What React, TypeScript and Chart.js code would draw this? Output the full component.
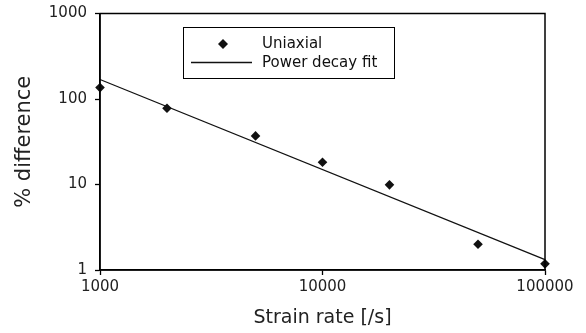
import React, { useEffect, useRef } from "react";
import { Chart, registerables } from "chart.js";

Chart.register(...registerables);

// Measured strain rates [/s] and percentage differences
const strainRates = [1000, 2000, 5000, 10000, 20000, 50000, 100000];
const uniaxialDiff = [136, 78, 37, 18.2, 9.9, 2.0, 1.18];

// Power decay fit evaluated at the ends of the range
const fitRates = [1000, 100000];
const fitDiff = [169, 1.32];

const xTickValues = [1000, 10000, 100000];
const yTickValues = [1, 10, 100, 1000];

const legendLabels = ["Uniaxial", "Power decay fit"];

const FONT = "'DejaVu Sans', sans-serif";

const framePlugin = {
  id: "frameAndLegend",
  afterDraw(chart: any) {
    const { ctx, chartArea } = chart;
    ctx.save();
    // box around the plot area
    ctx.strokeStyle = "#000";
    ctx.lineWidth = 1.5;
    ctx.strokeRect(chartArea.left, chartArea.top, chartArea.right - chartArea.left, chartArea.bottom - chartArea.top);

    // legend panel
    const bx = 183.5, by = 27.5, bw = 211, bh = 51;
    ctx.fillStyle = "#fff";
    ctx.fillRect(bx, by, bw, bh);
    ctx.lineWidth = 1;
    ctx.strokeRect(bx, by, bw, bh);

    // diamond marker
    const dx = 223, dy = 44, r = 5;
    ctx.fillStyle = "#111";
    ctx.beginPath();
    ctx.moveTo(dx, dy - r);
    ctx.lineTo(dx + r, dy);
    ctx.lineTo(dx, dy + r);
    ctx.lineTo(dx - r, dy);
    ctx.closePath();
    ctx.fill();

    // fit line sample
    ctx.strokeStyle = "#111";
    ctx.lineWidth = 1.3;
    ctx.beginPath();
    ctx.moveTo(191, 62.5);
    ctx.lineTo(252, 62.5);
    ctx.stroke();

    ctx.fillStyle = "#111";
    ctx.font = `15px ${FONT}`;
    ctx.textAlign = "left";
    ctx.textBaseline = "middle";
    ctx.fillText(legendLabels[0], 262, 44);
    ctx.fillText(legendLabels[1], 262, 63);
    ctx.restore();
  },
};

export default function App() {
  const canvasRef = useRef<HTMLCanvasElement | null>(null);

  useEffect(() => {
    document.body.style.margin = "0";
    const canvas = canvasRef.current;
    if (!canvas) return;
    const chart = new Chart(canvas, {
      type: "scatter",
      data: {
        datasets: [
          {
            label: legendLabels[1],
            type: "line",
            data: fitRates.map((x, i) => ({ x, y: fitDiff[i] })),
            borderColor: "#111",
            borderWidth: 1.3,
            pointRadius: 0,
            fill: false,
            tension: 0,
            clip: false,
          },
          {
            label: legendLabels[0],
            data: strainRates.map((x, i) => ({ x, y: uniaxialDiff[i] })),
            pointStyle: "rectRot",
            pointRadius: 4.8,
            backgroundColor: "#111",
            borderColor: "#111",
            borderWidth: 0,
            clip: false,
          },
        ],
      },
      options: {
        animation: false,
        responsive: false,
        devicePixelRatio: 1,
        layout: { padding: { top: 13.5, right: 41, left: 0, bottom: 0 } },
        plugins: { legend: { display: false }, tooltip: { enabled: false } },
        scales: {
          x: {
            type: "logarithmic",
            min: 1000,
            max: 100000,
            afterBuildTicks: (s: any) => {
              s.ticks = xTickValues.map((v) => ({ value: v }));
            },
            afterFit: (s: any) => {
              s.height = 63;
            },
            ticks: {
              color: "#222",
              font: { family: FONT, size: 15 },
              padding: 3,
              maxRotation: 0,
              callback: (v: any) => String(v),
            },
            grid: { drawOnChartArea: false, drawTicks: true, tickLength: 5, color: "#000", tickWidth: 1.3 },
            border: { color: "#000", width: 1.5 },
            title: {
              display: true,
              text: "Strain rate [/s]",
              color: "#222",
              font: { family: FONT, size: 19 },
              padding: { top: 0, bottom: 4 },
            },
          },
          y: {
            type: "logarithmic",
            min: 1,
            max: 1000,
            afterBuildTicks: (s: any) => {
              s.ticks = yTickValues.map((v) => ({ value: v }));
            },
            afterFit: (s: any) => {
              s.width = 100;
            },
            ticks: {
              color: "#222",
              font: { family: FONT, size: 15, lineHeight: 0.6 },
              padding: 8,
              callback: (v: any) => String(v),
            },
            grid: { drawOnChartArea: false, drawTicks: true, tickLength: 5, color: "#000", tickWidth: 1.3 },
            border: { color: "#000", width: 1.5 },
            title: {
              display: true,
              text: "% difference",
              color: "#222",
              font: { family: FONT, size: 21 },
              padding: { top: 12, bottom: 0 },
            },
          },
        },
      },
      plugins: [framePlugin],
    });
    return () => chart.destroy();
  }, []);

  return (
    <div style={{ position: "absolute", left: 0, top: 0, width: 586, height: 333, background: "#fff" }}>
      <canvas ref={canvasRef} width={586} height={333} style={{ width: 586, height: 333 }} />
    </div>
  );
}
